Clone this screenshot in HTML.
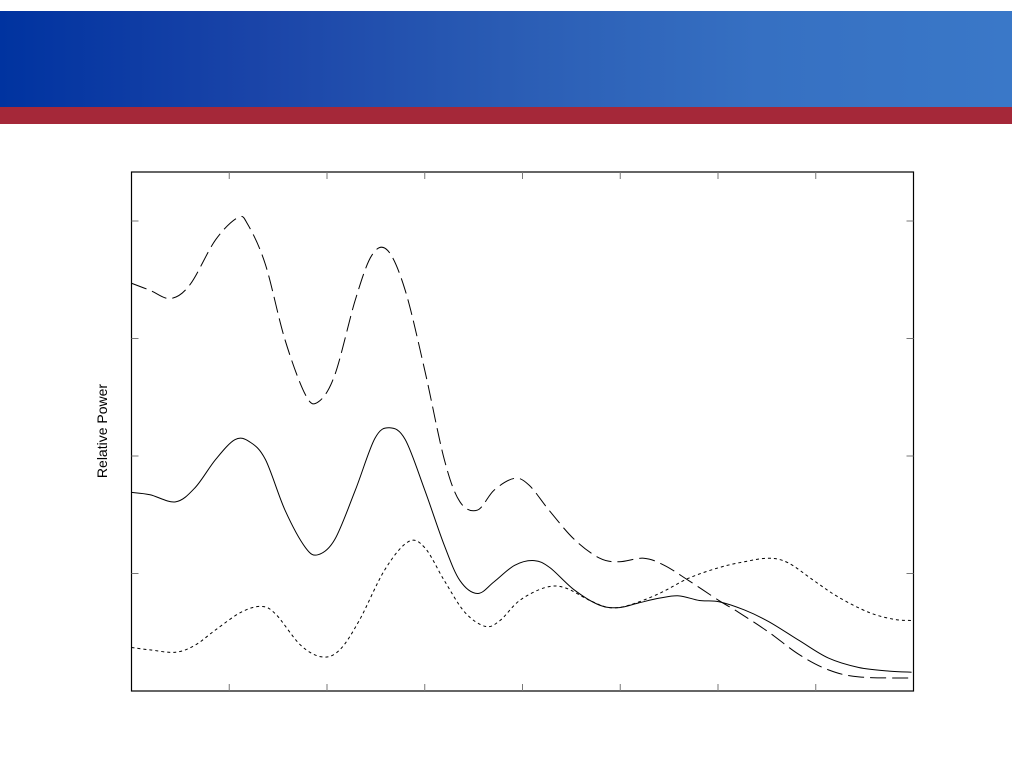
<!DOCTYPE html>
<html><head><meta charset="utf-8"><style>
html,body{margin:0;padding:0;background:#fff;}
body{width:1012px;height:782px;position:relative;overflow:hidden;font-family:"Liberation Sans",sans-serif;}
#hdr{position:absolute;left:0;top:11px;width:1012px;height:96px;background:linear-gradient(90deg,#0033a0 0%,#1a44a8 25%,#2a5cb4 50%,#3670c2 75%,#3a78c8 100%);}
#red{position:absolute;left:0;top:107px;width:1012px;height:17px;background:#a52839;}
svg{position:absolute;left:0;top:0;}
</style></head><body>
<div id="hdr"></div>
<div id="red"></div>
<svg id="chart" width="1012" height="782"></svg>
<script>
const dashedX=[0,0.19,0.40,0.60,0.86,1.09,1.19,1.37,1.57,1.78,1.91,2.08,2.29,2.46,2.62,2.80,3.00,3.20,3.36,3.54,3.71,3.92,4.07,4.27,4.53,4.79,4.99,5.24,5.45,5.70,6.01,6.21,6.52,6.83,7.13,7.44,7.98];
const dashedY=[3.47,3.41,3.34,3.46,3.84,4.03,3.97,3.63,2.99,2.52,2.46,2.69,3.33,3.71,3.75,3.41,2.73,1.97,1.61,1.54,1.71,1.81,1.75,1.54,1.29,1.13,1.10,1.13,1.07,0.94,0.77,0.67,0.50,0.31,0.18,0.12,0.11];
const solidX=[0,0.19,0.45,0.65,0.86,1.06,1.21,1.37,1.57,1.78,1.91,2.08,2.29,2.49,2.64,2.80,3.00,3.20,3.36,3.54,3.71,3.92,4.12,4.28,4.53,4.79,4.99,5.19,5.40,5.60,5.81,6.01,6.27,6.52,6.83,7.13,7.44,7.74,7.98];
const solidY=[1.69,1.67,1.61,1.73,1.97,2.14,2.12,1.97,1.54,1.22,1.16,1.29,1.71,2.15,2.24,2.14,1.71,1.24,0.94,0.83,0.93,1.07,1.11,1.05,0.86,0.73,0.71,0.75,0.79,0.81,0.77,0.76,0.69,0.59,0.43,0.28,0.20,0.17,0.16];
const dottedX=[0,0.19,0.45,0.65,0.86,1.12,1.33,1.48,1.73,1.95,2.13,2.33,2.59,2.83,3.00,3.20,3.41,3.62,3.77,3.97,4.23,4.43,4.69,4.89,5.09,5.40,5.70,6.01,6.27,6.52,6.72,6.98,7.23,7.54,7.80,7.98];
const dottedY=[0.37,0.35,0.33,0.39,0.52,0.67,0.72,0.65,0.39,0.29,0.35,0.60,1.03,1.27,1.22,0.94,0.67,0.55,0.60,0.77,0.88,0.88,0.77,0.71,0.73,0.83,0.96,1.05,1.10,1.13,1.09,0.94,0.80,0.67,0.61,0.60];
const xTicks=[1,2,3,4,5,6,7];
const yTicks=[1,2,3,4];

const NS='http://www.w3.org/2000/svg';
const svg=document.getElementById('chart');
const L=131.5,R=913.5,T=172,B=691;
const sx=v=>L+v*97.75;
const sy=v=>B-v*117.5;
function mk(tag,attrs){const e=document.createElementNS(NS,tag);for(const k in attrs)e.setAttribute(k,attrs[k]);svg.appendChild(e);return e;}
const frame=mk('rect',{x:L,y:T,width:R-L,height:B-T,fill:'none',stroke:'#000','stroke-width':1.2});


xTicks.forEach(t=>{
  const a=mk('line',{x1:sx(t),x2:sx(t),y1:T,y2:T+7,stroke:'#777','stroke-width':1});
  
  
  const b=mk('line',{x1:sx(t),x2:sx(t),y1:B,y2:B-7,stroke:'#777','stroke-width':1});
  
  
});
yTicks.forEach(t=>{
  const a=mk('line',{x1:L,x2:L+7,y1:sy(t),y2:sy(t),stroke:'#777','stroke-width':1});
  
  
  const b=mk('line',{x1:R,x2:R-7,y1:sy(t),y2:sy(t),stroke:'#777','stroke-width':1});
  
  
});
function pathD(xs,ys){
  const p=xs.map((x,i)=>[sx(x),sy(ys[i])]);
  let d='M'+p[0][0]+','+p[0][1];
  for(let i=0;i<p.length-1;i++){
    const p0=p[Math.max(0,i-1)],p1=p[i],p2=p[i+1],p3=p[Math.min(p.length-1,i+2)];
    const c1=[p1[0]+(p2[0]-p0[0])/6,p1[1]+(p2[1]-p0[1])/6];
    const c2=[p2[0]-(p3[0]-p1[0])/6,p2[1]-(p3[1]-p1[1])/6];
    d+=' C'+c1[0]+','+c1[1]+' '+c2[0]+','+c2[1]+' '+p2[0]+','+p2[1];
  }
  return d;
}
const s1=mk('path',{d:pathD(dashedX,dashedY),fill:'none',stroke:'#000','stroke-width':1,'stroke-dasharray':'16,6'});


const s2=mk('path',{d:pathD(solidX,solidY),fill:'none',stroke:'#000','stroke-width':1});


const s3=mk('path',{d:pathD(dottedX,dottedY),fill:'none',stroke:'#000','stroke-width':1,'stroke-dasharray':'3,3'});


const yl=mk('text',{x:0,y:0,transform:'translate(107,431) rotate(-90)','text-anchor':'middle','font-size':14,fill:'#000','font-family':'Liberation Sans, sans-serif'});
yl.textContent='Relative Power';


</script>
</body></html>
